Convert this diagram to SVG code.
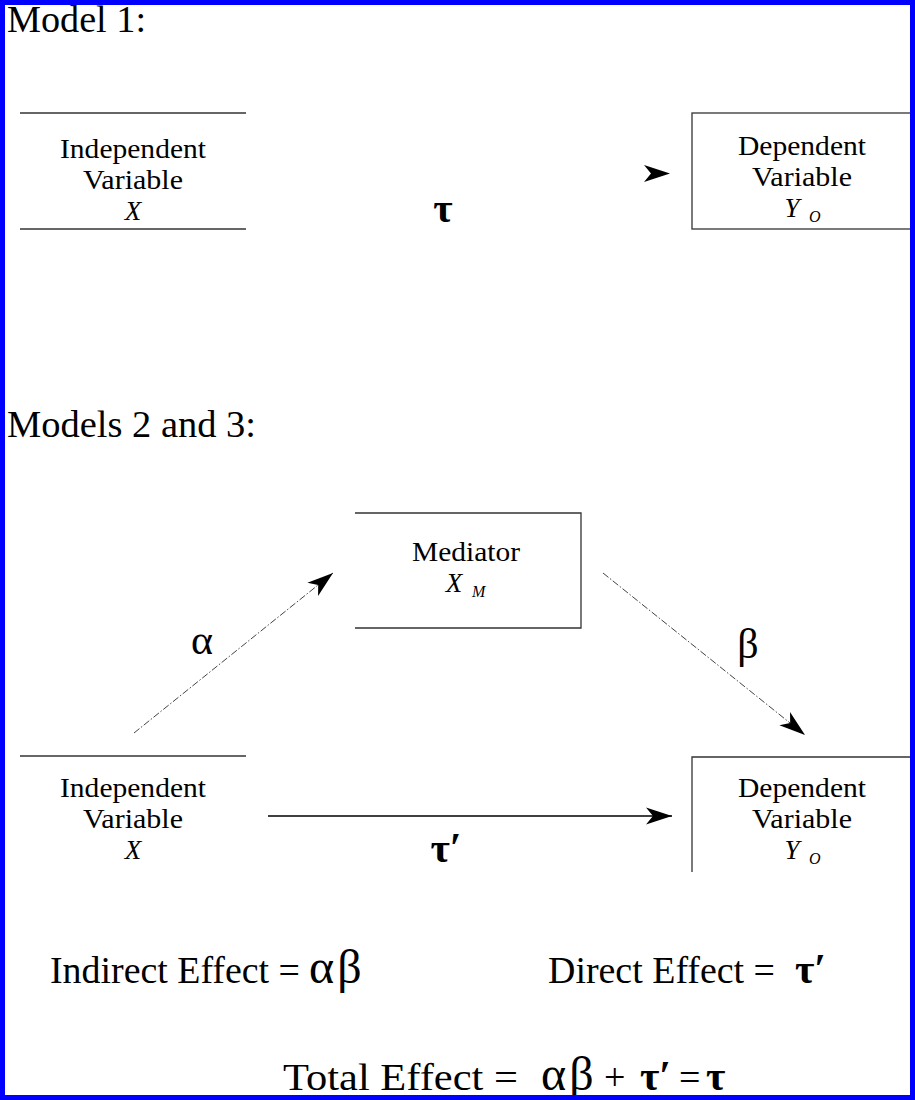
<svg xmlns="http://www.w3.org/2000/svg" width="915" height="1100" viewBox="0 0 915 1100">
<style>
.t{font-family:"Liberation Serif","Times New Roman",serif;fill:#000}
.lbl{font-size:27px;text-anchor:middle}
.ttl{font-size:37px}
.eq{font-size:38px}
.it{font-style:italic}
.gk{font-family:"Liberation Serif","DejaVu Serif",serif;font-size:42px;fill:#000}
.gb{font-weight:bold}
.ab{font-size:48px;letter-spacing:3px}
.box{fill:none;stroke:#333;stroke-width:1.3}
.dash{fill:none;stroke:#444;stroke-width:1;stroke-dasharray:7 2 1.5 2}
.solid{fill:none;stroke:#000;stroke-width:1.5}
.head{fill:#000}
</style>
<defs>
<marker id="ah" markerUnits="userSpaceOnUse" orient="auto" refX="0" refY="0" markerWidth="30" markerHeight="20" overflow="visible">
<path d="M0,0 L-26,-8.5 L-19,0 L-26,8.5 Z" fill="#000"/>
</marker>
</defs>
<rect x="0" y="0" width="915" height="1100" fill="#fff"/>

<text class="t ttl" x="7" y="32" textLength="139" lengthAdjust="spacingAndGlyphs">Model 1:</text>
<text class="t ttl" x="7" y="437" textLength="249" lengthAdjust="spacingAndGlyphs">Models 2 and 3:</text>

<g id="iv1">
<line class="box" x1="20" y1="113" x2="246" y2="113"/>
<line class="box" x1="20" y1="229" x2="246" y2="229"/>
<text class="t lbl" x="133" y="158" textLength="146" lengthAdjust="spacingAndGlyphs">Independent</text>
<text class="t lbl" x="133" y="189" textLength="100" lengthAdjust="spacingAndGlyphs">Variable</text>
<text class="t lbl it" x="133" y="220">X</text>
</g>

<g id="dv1">
<rect class="box" x="692" y="113" width="222" height="116"/>
<text class="t lbl" x="802" y="155" textLength="128" lengthAdjust="spacingAndGlyphs">Dependent</text>
<text class="t lbl" x="802" y="186" textLength="100" lengthAdjust="spacingAndGlyphs">Variable</text>
<text class="t lbl it" x="792" y="217">Y</text>
<text class="t it" x="809" y="222" font-size="16">O</text>
</g>

<g id="med">
<path class="box" d="M355,513 H581 V628 H355"/>
<text class="t lbl" x="466" y="561" textLength="108" lengthAdjust="spacingAndGlyphs">Mediator</text>
<text class="t lbl it" x="454" y="592">X</text>
<text class="t it" x="472" y="597" font-size="16">M</text>
</g>

<g id="iv2">
<line class="box" x1="20" y1="756" x2="246" y2="756"/>
<text class="t lbl" x="133" y="797" textLength="146" lengthAdjust="spacingAndGlyphs">Independent</text>
<text class="t lbl" x="133" y="828" textLength="100" lengthAdjust="spacingAndGlyphs">Variable</text>
<text class="t lbl it" x="133" y="859">X</text>
</g>

<g id="dv2">
<path class="box" d="M692,872 V757 H914"/>
<text class="t lbl" x="802" y="797" textLength="128" lengthAdjust="spacingAndGlyphs">Dependent</text>
<text class="t lbl" x="802" y="828" textLength="100" lengthAdjust="spacingAndGlyphs">Variable</text>
<text class="t lbl it" x="792" y="859">Y</text>
<text class="t it" x="809" y="864" font-size="16">O</text>
</g>

<g id="connectors">
<path class="head" d="M670,173.5 L644,165 L651,173.5 L644,182 Z"/>
<line class="dash" x1="134" y1="733" x2="333" y2="573" marker-end="url(#ah)"/>
<line class="dash" x1="603" y1="573" x2="805" y2="735" marker-end="url(#ah)"/>
<line class="solid" x1="268" y1="816" x2="672" y2="816" marker-end="url(#ah)"/>
</g>

<g id="labels">
<text class="gk gb" x="443" y="222" text-anchor="middle">τ</text>
<text class="gk" x="202" y="654" text-anchor="middle">α</text>
<text class="gk" x="748" y="658" text-anchor="middle">β</text>
<text class="gk gb" x="446" y="862" text-anchor="middle">τ′</text>
</g>

<g id="equations">
<text class="t eq" x="50" y="983" textLength="250" lengthAdjust="spacingAndGlyphs">Indirect Effect =</text>
<text class="gk ab" x="309" y="983">αβ</text>
<text class="t eq" x="548" y="983" textLength="227" lengthAdjust="spacingAndGlyphs">Direct Effect =</text>
<text class="gk gb" x="795" y="983">τ′</text>
<text class="t eq" x="283" y="1090" textLength="235" lengthAdjust="spacingAndGlyphs">Total Effect =</text>
<text class="gk ab" x="541" y="1090">αβ</text>
<text class="t eq" x="604" y="1090">+</text>
<text class="gk gb" x="640" y="1090">τ′</text>
<text class="t eq" x="679" y="1090">=</text>
<text class="gk gb" x="706" y="1090">τ</text>
</g>

<rect x="2.5" y="2.5" width="910" height="1095" fill="none" stroke="#0000ff" stroke-width="5"/>
</svg>
